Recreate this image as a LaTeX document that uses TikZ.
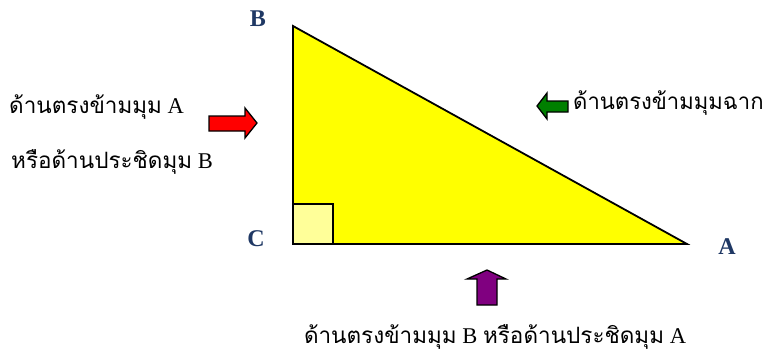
\documentclass[tikz,border=0pt]{standalone}
\usepackage{fontspec}
\setmainfont{Liberation Serif}
\newfontfamily\thaifont[Script=Thai]{Loma}
\definecolor{lblblue}{HTML}{1F3864}
\definecolor{triyel}{HTML}{FFFF00}
\definecolor{lightyel}{HTML}{FFFF99}
\definecolor{arrred}{HTML}{FF0000}
\definecolor{arrgreen}{HTML}{007F00}
\definecolor{arrpurple}{HTML}{800080}
\begin{document}
\begin{tikzpicture}[x=1pt,y=-1pt,
  tri/.style={draw=black,line width=1.8pt,fill=triyel,line join=miter},
  sq/.style={draw=black,line width=1.8pt,fill=lightyel},
  lbl/.style={font=\fontsize{24}{24}\selectfont\bfseries,text=lblblue,inner sep=0pt},
  thtxt/.style={font=\fontsize{22.5}{26}\selectfont,inner sep=0pt},
  blockarr/.style={draw=black,line width=1.3pt,line join=miter}]
\useasboundingbox (0,0) rectangle (766,354);
\coordinate (B) at (293,26);
\coordinate (C) at (293,244);
\coordinate (A) at (687,244);
\draw[tri] (B) -- (C) -- (A) -- cycle;
\draw[sq] (C) rectangle ++(40,-40);
\node[lbl] (lB) at (258,19) {B};
\node[lbl] (lC) at (256,239) {C};
\node[lbl] (lA) at (727,247) {A};
% left texts
\node[thtxt,anchor=west] (t1) at (9,107) {{\thaifont ด้านตรงข้ามมุม} A};
\node[thtxt,anchor=west] (t2) at (11,162) {{\thaifont หรือด้านประชิดมุม} B};
% right text
\node[thtxt,anchor=west,xscale=0.98] (t3) at (573,103) {\thaifont ด้านตรงข้ามมุมฉาก};
% bottom text
\node[thtxt] (t4) at (495,337) {{\thaifont ด้านตรงข้ามมุม} B {\thaifont หรือด้านประชิดมุม} A};
% red arrow
\draw[blockarr,fill=arrred] (209,116) -- (245,116) -- (245,108) -- (257,123) -- (245,138) -- (245,131) -- (209,131) -- cycle;
% green arrow
\draw[blockarr,fill=arrgreen] (568,101) -- (547,101) -- (547,93) -- (537,106) -- (547,119) -- (547,112) -- (568,112) -- cycle;
% purple arrow
\draw[blockarr,fill=arrpurple] (477,305) -- (477,279) -- (467,279) -- (487,270) -- (506,279) -- (497,279) -- (497,305) -- cycle;
\end{tikzpicture}
\end{document}
